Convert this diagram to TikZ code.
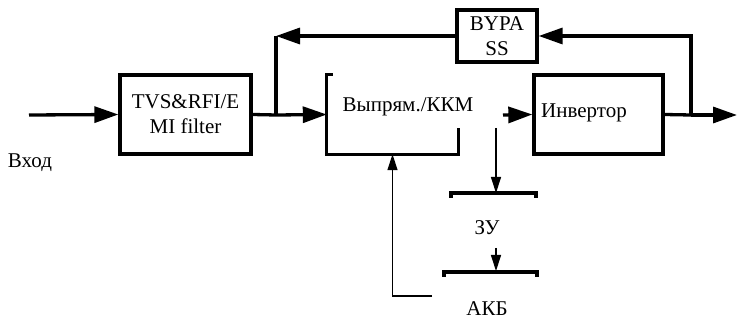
\documentclass[tikz,border=0pt]{standalone}
\usepackage{fontspec}
\setmainfont{Liberation Serif}
\usetikzlibrary{arrows.meta, positioning}

\begin{document}
\begin{tikzpicture}[x=1pt, y=-1pt, font=\fontsize{21}{25}\selectfont,
          bus/.style={line width=3.3pt},
          sig/.style={line width=1.2pt},
          bigarr/.style={bus, -{Triangle[length=24pt, width=16pt]}},
          smallarr/.style={sig, -{Triangle[length=16pt, width=10pt]}},
          block/.style={draw, bus, rectangle, align=center, inner sep=0pt},
          lbl/.style={inner sep=0pt}
        ]
        \useasboundingbox (0,0) rectangle (737,320);

        \node[block, minimum width=131pt, minimum height=79pt] (filter) at (185.5,114.5) {TVS\&RFI/E\\MI filter};
        \node[block, minimum width=80pt, minimum height=52pt]  (bypass) at (497,36) {BYPA\\SS};
        \node[minimum width=131pt, minimum height=79pt, inner sep=0pt] (rect) at (392.5,114.5) {};
        \node[lbl] (rectlbl) at (408,107) {Выпрям./ККМ};
        \node[block, minimum width=129pt, minimum height=79pt] (inv) at (598.5,114.5) {};
        \node[lbl] (invlbl) at (584,113) {Инвертор};
        \node[lbl] (vhod) at (30,163) {Вход};
        \node[lbl] (zu)  at (487,228) {ЗУ};
        \node[lbl] (akb) at (487,309) {АКБ};

        \coordinate (in)     at (29,115);
        \coordinate (split)  at (276,115);
        \coordinate (dcbus)  at (503,115);
        \coordinate (join)   at (691,115);
        \coordinate (out)    at (737,115);
        \coordinate (tap)    at (496,128);
        \coordinate (zutop)  at (496,193);
        \coordinate (zuout)  at (496,248);
        \coordinate (akbtop) at (496,271);
        \coordinate (akbout) at (432,296);

        % outline of the rectifier (open on top and right)
        \draw[bus] ([xshift=6pt]rect.north west) -- (rect.north west) -- (rect.south west)
              -- (rect.south east) -- ([yshift=26pt]rect.south east);

        % brackets of ZU and AKB
        \draw[bus] (451,198) -- (451,193) -- (536,193) -- (536,198);
        \draw[bus] (444,277) -- (444,272) -- (537,272) -- (537,277);

        % main path
        \draw[bigarr] (in) -- (filter.west);
        \draw[bus]    (filter.east) -- (split);
        \draw[bigarr] (split) -- (rect.west);
        \draw[bigarr] (dcbus) -- (inv.west);
        \draw[bus]    (inv.east) -- (join);
        \draw[bigarr] (join) -- (out);

        % bypass
        \draw[bigarr] (join) |- (bypass.east);
        \draw[bigarr] (bypass.west) -- (split |- bypass.west);
        \draw[bus]    (split |- bypass.west) -- (split);

        % charger and battery
        \draw[smallarr] (tap) -- (zutop);
        \draw[smallarr] (zuout) -- (akbtop);
        \draw[smallarr] (akbout) -| (rect.south);
      \end{tikzpicture}
\end{document}
